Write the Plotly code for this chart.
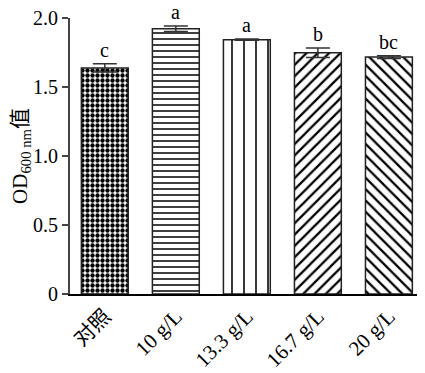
import plotly.graph_objects as go

categories = ["对照", "10 g/L", "13.3 g/L", "16.7 g/L", "20 g/L"]
values = [1.638, 1.922, 1.843, 1.748, 1.717]
errors = [0.030, 0.020, 0.005, 0.035, 0.010]
letters = ["c", "a", "a", "b", "bc"]
patterns = [".", "-", "|", "/", "\\"]
pattern_sizes = [5, 6, 12, 8, 8]
pattern_solidity = [0.6, 0.25, 0.13, 0.28, 0.28]

FONT = "Liberation Serif, Times New Roman, Noto Sans CJK SC, serif"

fig = go.Figure()
fig.add_trace(go.Bar(
    x=categories,
    y=values,
    width=0.66,
    marker=dict(
        color="white",
        line=dict(color="#222222", width=1.5),
        pattern=dict(shape=patterns, size=pattern_sizes, solidity=pattern_solidity,
                     fgcolor="black", bgcolor="white", fgopacity=1, fillmode="overlay"),
    ),
    error_y=dict(type="data", array=errors, visible=True, color="#333333",
                 thickness=1.5, width=12),
    showlegend=False,
))

for c, v, e, l in zip(categories, values, errors, letters):
    fig.add_annotation(x=c, y=v + e, text=l, showarrow=False, yanchor="bottom",
                       yshift=1, font=dict(family=FONT, size=20, color="black"))

fig.update_layout(
    width=417, height=365,
    margin=dict(l=62, r=2, t=10, b=79),
    paper_bgcolor="white", plot_bgcolor="white",
    font=dict(family=FONT, color="black"),
)
fig.update_xaxes(
    range=[-0.49, 4.48], automargin=False,
    showline=True, linecolor="black", linewidth=1.5,
    ticks="", tickangle=-45, tickfont=dict(family=FONT, size=21, color="black"),
    ticklabeloverflow="allow",
    showgrid=False, zeroline=False,
)
fig.update_yaxes(
    range=[0, 2.0], automargin=False,
    tickvals=[0, 0.5, 1.0, 1.5, 2.0],
    ticktext=["0", "0.5", "1.0", "1.5", "2.0"],
    showline=True, linecolor="#444444", linewidth=2,
    ticks="outside", ticklen=6, tickcolor="#444444", tickwidth=1.5,
    tickfont=dict(family=FONT, size=20, color="black"),
    ticklabeloverflow="allow",
    showgrid=False, zeroline=False,
    title=dict(text="OD<sub>600 nm</sub>值", font=dict(family=FONT, size=21, color="black"),
               standoff=4),
)

fig.write_html("out.html")
